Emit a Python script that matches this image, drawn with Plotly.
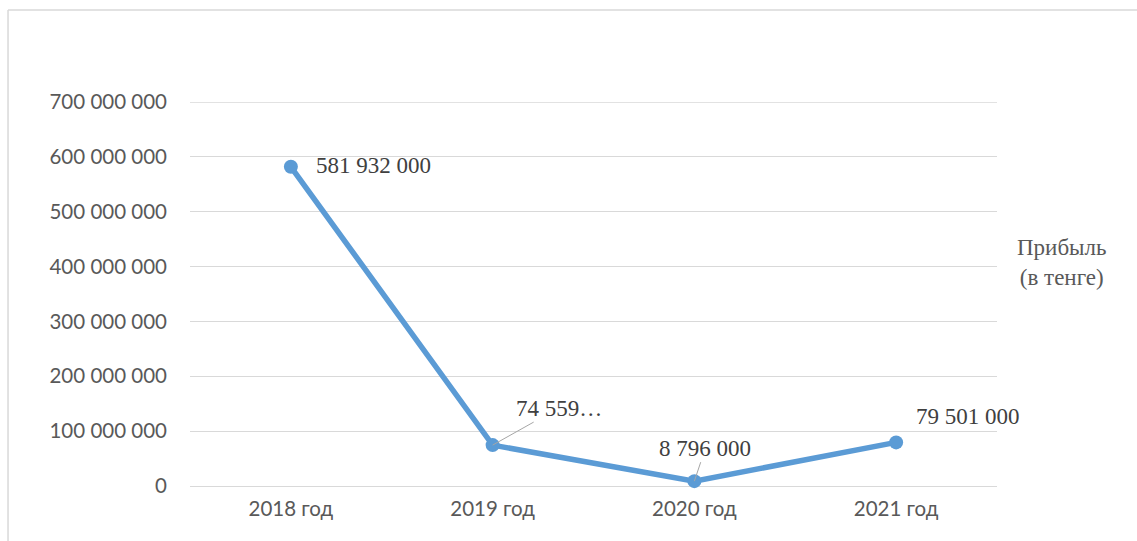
import plotly.graph_objects as go

# Profit by year (tenge)
years = ["2018 год", "2019 год", "2020 год", "2021 год"]
profit = [581932000, 74559000, 8796000, 79501000]
label_texts = ["581 932 000", "74 559…", "8 796 000", "79 501 000"]
y_ticks = [0, 100000000, 200000000, 300000000, 400000000, 500000000, 600000000, 700000000]
series_name = "Прибыль<br>(в тенге)"

LINE_BLUE = "#5B9BD5"
GRID = "#d9d9d9"
TICK_GREY = "#595959"
LABEL_GREY = "#404040"

fig = go.Figure()
fig.add_trace(go.Scatter(
    x=years, y=profit, mode="lines+markers",
    line=dict(color=LINE_BLUE, width=5.5),
    marker=dict(color=LINE_BLUE, size=14),
    hoverinfo="skip", showlegend=False, cliponaxis=False,
))

# Data labels: (x offset, y offset, leader line) in pixels relative to the point
label_layout = [(83, -1, False), (66, -37, True), (11, -33, True), (72, -26, False)]
for xv, yv, txt, (dx, dy, leader) in zip(years, profit, label_texts, label_layout):
    common = dict(x=xv, y=yv, xref="x", yref="y", text=txt,
                  font=dict(family="Liberation Serif", size=23, color=LABEL_GREY))
    if leader:
        fig.add_annotation(**common, showarrow=True, ax=dx, ay=dy, axref="pixel", ayref="pixel",
                           arrowhead=0, arrowwidth=1, arrowcolor="#a6a6a6", standoff=0)
    else:
        fig.add_annotation(**common, showarrow=False, xshift=dx, yshift=-dy)

# Series caption on the right
fig.add_annotation(x=1.081, y=0.583, xref="paper", yref="paper", text=series_name,
                   showarrow=False, align="center", xanchor="center", yanchor="middle",
                   font=dict(family="Liberation Serif", size=23, color=TICK_GREY))

# Top gridline sits on the plot edge, so draw it explicitly
fig.add_shape(type="line", xref="paper", yref="y", x0=0, x1=1, y0=y_ticks[-1], y1=y_ticks[-1],
              line=dict(color=GRID, width=1.3), layer="below")

# Chart frame (top and left edges)
fig.add_shape(type="line", xref="paper", yref="paper", x0=-0.2255, x1=1.18, y0=1.2396, y1=1.2396,
              line=dict(color="#d9d9d9", width=1.5))
fig.add_shape(type="line", xref="paper", yref="paper", x0=-0.2255, x1=-0.2255, y0=-0.2, y1=1.2396,
              line=dict(color="#d9d9d9", width=1.5))

fig.update_layout(
    width=1137, height=541,
    margin=dict(l=190, r=140, t=102, b=55),
    paper_bgcolor="white", plot_bgcolor="white",
    separators=", ",
    xaxis=dict(range=[-0.5, 3.5], showgrid=False, zeroline=False, showline=False,
               ticks="", tickfont=dict(family="Lato", size=20.5, color=TICK_GREY),
               ticklabelstandoff=8),
    yaxis=dict(range=[0, 700000000], tickvals=y_ticks, tickformat=",d",
               showgrid=True, gridcolor=GRID, gridwidth=1.3, zeroline=True,
               zerolinecolor=GRID, zerolinewidth=1.3, showline=False, ticks="",
               tickfont=dict(family="Lato", size=20.5, color=TICK_GREY),
               ticklabelstandoff=22),
)

fig.write_html("out.html")
